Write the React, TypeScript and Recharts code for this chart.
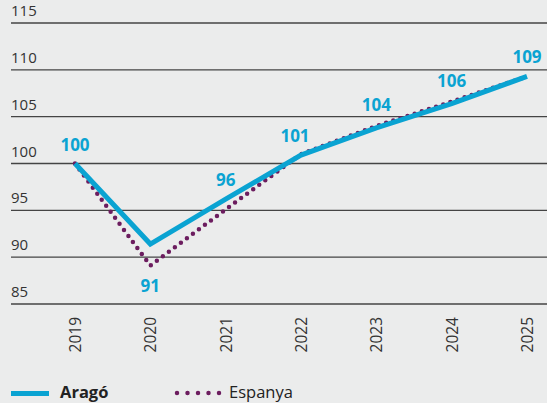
import { LineChart, Line, XAxis, YAxis, CartesianGrid, LabelList } from 'recharts'

const years = ['2019', '2020', '2021', '2022', '2023', '2024', '2025']
const arago = [100, 91.4, 96.2, 100.9, 103.8, 106.4, 109.3]
const espanya = [100, 89.1, 95.1, 101, 104, 106.6, 109.3]
const aragoLabels = ['100', '91', '96', '101', '104', '106', '109']
const yTicks = [85, 90, 95, 100, 105, 110, 115]

const BLUE = '#0aa3d2'
const PURPLE = '#6c1d5f'
const FONT = '"Open Sans", sans-serif'

const data = years.map((y, i) => ({ year: y, arago: arago[i], espanya: espanya[i], label: aragoLabels[i] }))

// eslint-disable-next-line @typescript-eslint/no-explicit-any
function YTick({ y, payload }: any) {
  return (
    <text x={11} y={y - 7} fill="#333" fontSize={15} fontFamily={FONT}>
      {payload.value}
    </text>
  )
}

// eslint-disable-next-line @typescript-eslint/no-explicit-any
function XTick({ x, payload }: any) {
  return (
    <text
      x={x}
      y={317}
      transform={`rotate(-90, ${x}, 317)`}
      textAnchor="end"
      dominantBaseline="central"
      fill="#333"
      fontSize={15.5}
      fontFamily={FONT}
    >
      {payload.value}
    </text>
  )
}

// eslint-disable-next-line @typescript-eslint/no-explicit-any
function PointLabel({ x, y, value, index }: any) {
  const below = index === 1
  const lift = index === 4 || index === 5 ? 17 : 13
  const dx = index === 3 ? -6 : 0
  return (
    <text
      x={x + dx}
      y={below ? y + 48 : y - lift}
      textAnchor="middle"
      fill={BLUE}
      fontSize={17}
      fontWeight={700}
      fontFamily={FONT}
    >
      {value}
    </text>
  )
}

export default function App() {
  return (
    <div style={{ position: 'absolute', left: 0, top: 0, width: 547, height: 403, background: '#ebecec', overflow: 'hidden' }}>
      <LineChart width={547} height={403} data={data} margin={{ top: 23, right: 0, left: 0, bottom: 49 }}>
        <CartesianGrid horizontal vertical={false} stroke="#444" strokeWidth={1.4} />
        <XAxis
          dataKey="year"
          padding={{ left: 64, right: 20 }}
          axisLine={false}
          tickLine={false}
          tick={<XTick />}
          height={50}
          interval={0}
        />
        <YAxis domain={[85, 115]} ticks={yTicks} width={11} axisLine={false} tickLine={false} tick={<YTick />} />
        <Line
          dataKey="espanya"
          stroke={PURPLE}
          strokeWidth={4.5}
          strokeDasharray="0 7.5"
          strokeLinecap="round"
          dot={false}
          isAnimationActive={false}
        />
        <Line
          dataKey="arago"
          stroke={BLUE}
          strokeWidth={5}
          dot={false}
          isAnimationActive={false}
        >
          <LabelList dataKey="label" content={<PointLabel />} />
        </Line>
      </LineChart>
      <div style={{ position: 'absolute', left: 11, top: 391, width: 38, height: 5, background: BLUE }} />
      <div style={{ position: 'absolute', left: 60, top: 381, fontFamily: FONT, fontSize: 16.5, fontWeight: 700, color: '#222', lineHeight: '22px' }}>
        Aragó
      </div>
      <svg style={{ position: 'absolute', left: 174, top: 388 }} width={50} height={10}>
        <line x1={3} y1={5} x2={46} y2={5} stroke={PURPLE} strokeWidth={4.5} strokeDasharray="0 10.5" strokeLinecap="round" />
      </svg>
      <div style={{ position: 'absolute', left: 229, top: 381, fontFamily: FONT, fontSize: 16.5, color: '#222', lineHeight: '22px' }}>
        Espanya
      </div>
    </div>
  )
}
